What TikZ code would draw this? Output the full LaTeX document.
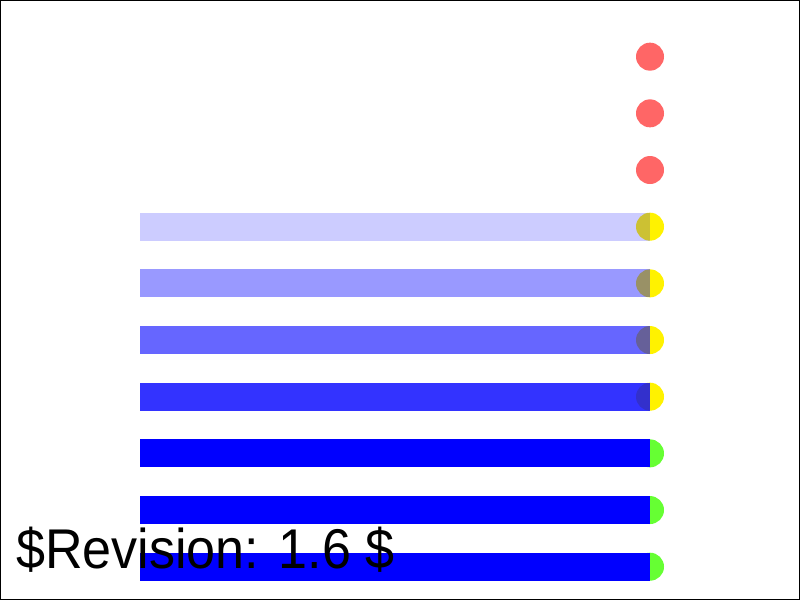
\documentclass[tikz,border=0pt]{standalone}
\usepackage{fontspec}
\setmainfont{Liberation Sans}
\definecolor{dotred}{RGB}{255,102,102}
\definecolor{dotgreen}{RGB}{102,255,51}
\tikzset{
	bar/.style = {fill = blue, draw = none},
	dot/.style = {draw = none, circle, minimum size = 28pt, inner sep = 0pt},
}
\begin{document}
\begin{tikzpicture}[x = 1pt, y = -1pt]
		\useasboundingbox (0,0) rectangle (800,600);
		\draw[black, line width = 1pt] (0.5,0.5) rectangle (799.5,599.5);
		% red dots on top
		\foreach \i in {1,2,3} {
			\node[dot, fill = dotred] (r\i) at (650, 56.67*\i) {};
		}
		% yellow dots under the see-through bars
		\foreach \i/\op in {4/0.2,5/0.4,6/0.6,7/0.8} {
			\node[dot, fill = yellow] (y\i) at (650, 56.67*\i) {};
			\fill[bar, opacity = \op] (140, 56.67*\i - 14) rectangle (650, 56.67*\i + 14);
		}
		% green dots under the solid bars
		\foreach \i in {8,9,10} {
			\node[dot, fill = dotgreen] (g\i) at (650, 56.67*\i) {};
			\fill[bar] (140, 56.67*\i - 14) rectangle (650, 56.67*\i + 14);
		}
		\node[anchor = base west, inner sep = 0pt, font = \fontsize{56}{60}\selectfont] (rev) at (16,568) {\scalebox{0.93}[1]{\$Revision: 1.6 \$}};
	\end{tikzpicture}
\end{document}
